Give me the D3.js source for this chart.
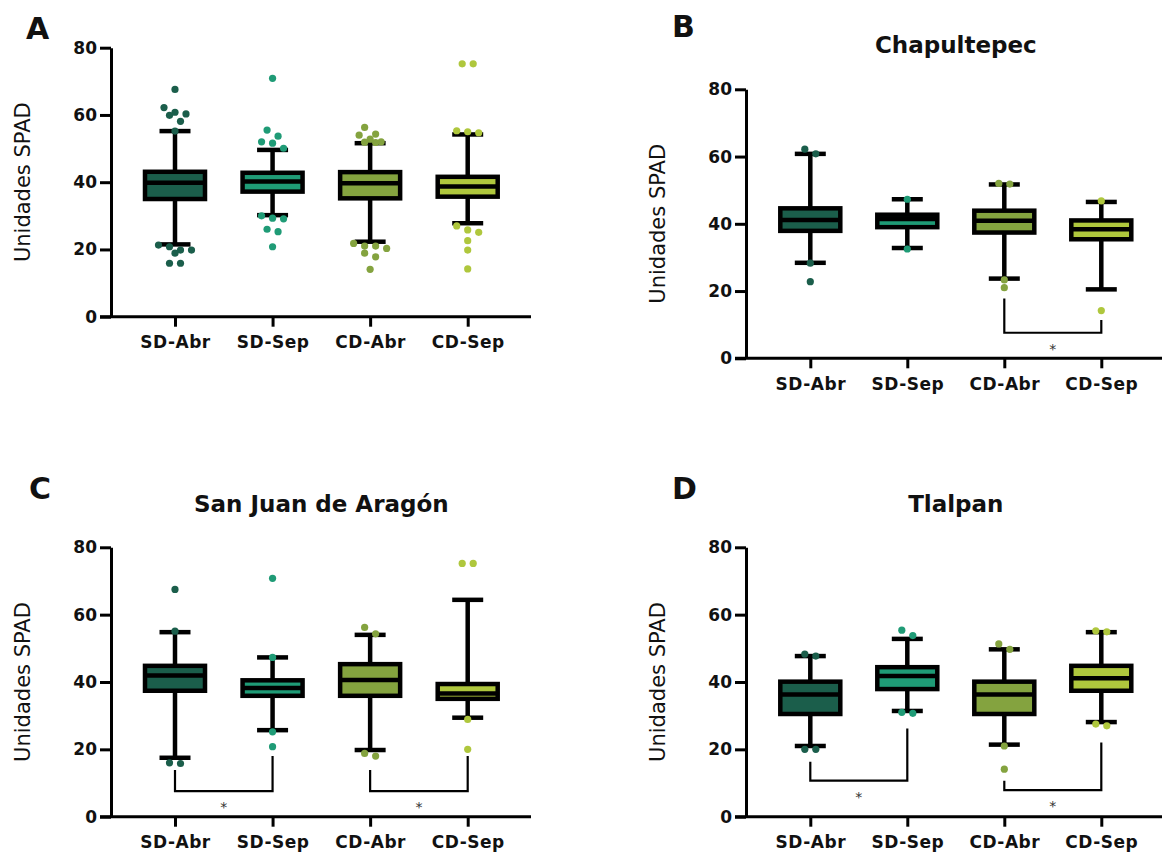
<!DOCTYPE html>
<html>
<head>
<meta charset="utf-8">
<script src="https://cdn.jsdelivr.net/npm/d3@7"></script>
<style>
  body { margin: 0; background: #fff; }
  text { font-family: "DejaVu Sans", sans-serif; }
</style>
</head>
<body>
<div id="plot"></div>
<script>
var categories = ["SD-Abr", "SD-Sep", "CD-Abr", "CD-Sep"];
var colors = ["#1b5e4b", "#1f9b76", "#84a33f", "#afc73d"];
var yTicks = [0, 20, 40, 60, 80];
var panelLetters = ["A", "B", "C", "D"];
var panelTitles = ["", "Chapultepec", "San Juan de Aragón", "Tlalpan"];
var yLabel = "Unidades SPAD";

// [whisker low, Q1, median, Q3, whisker high] per category
var boxesA = [[21.5, 35.0, 39.8, 43.1, 55.2], [30.2, 37.2, 40.2, 42.8, 49.6], [22.3, 35.2, 39.7, 43.0, 51.6], [27.8, 35.7, 38.7, 41.6, 54.2]];
var boxesB = [[28.4, 37.9, 41.1, 44.6, 60.8], [32.8, 39.0, 41.4, 42.7, 47.3], [23.7, 37.4, 40.9, 43.9, 51.7], [20.5, 35.4, 38.4, 41.0, 46.5]];
var boxesC = [[17.5, 37.4, 41.9, 44.8, 54.8], [25.7, 35.9, 38.2, 40.5, 47.3], [19.8, 35.9, 40.6, 45.3, 54.0], [29.4, 35.0, 36.6, 39.4, 64.4]];
var boxesD = [[21.0, 30.5, 36.3, 40.1, 47.7], [31.4, 37.9, 41.8, 44.4, 52.8], [21.4, 30.5, 36.3, 40.1, 49.7], [28.1, 37.4, 41.1, 44.8, 54.8]];

// points outside / at the whiskers
var outliersA = [
  [67.6, 62.2, 60.8, 60.3, 59.9, 58.1, 55.2, 21.3, 20.8, 19.8, 19.8, 18.9, 15.9, 15.9],
  [70.9, 55.5, 53.7, 52.0, 51.6, 50.1, 30.0, 29.3, 29.1, 26.0, 25.3, 20.8],
  [56.3, 54.3, 54.0, 52.8, 52.0, 51.9, 51.8, 21.8, 21.0, 21.0, 20.3, 18.9, 17.8, 14.1],
  [75.2, 75.2, 55.3, 55.0, 54.7, 27.0, 25.8, 25.1, 22.6, 19.8, 14.2]];
var outliersB = [[62.2, 60.8, 28.3, 22.8], [47.3, 32.5], [52.0, 51.8, 23.3, 21.0], [46.8, 14.2]];
var outliersC = [[67.5, 55.1, 16.0, 15.8], [70.8, 47.3, 25.2, 20.8], [56.2, 54.3, 18.8, 18.0], [75.2, 75.2, 28.9, 20.0]];
var outliersD = [[48.3, 47.7, 20.0, 20.0], [55.4, 53.8, 31.0, 30.7], [51.3, 49.7, 21.0, 14.1], [55.2, 54.9, 27.5, 27.0]];

// significance brackets: [group i, group j, top i, top j, bar level]
var compA = [];
var compB = [[2, 3, 17.8, 11.4, 7.6]];
var compC = [[0, 1, 13.9, 18.0, 7.6], [2, 3, 13.9, 18.0, 7.6]];
var compD = [[0, 1, 16.3, 26.2, 10.7], [2, 3, 10.7, 22.0, 7.9]];

var svg = d3.select("div#plot")
  .append("svg")
  .attr("width", 1162)
  .attr("height", 853);

var layouts = [
  {ox: 111, yTop: 47.7, yBot: 316.7, x1: 175, x2: 467.7, xEnd: 531, lx: 26, ly: 39, ty: 0},
  {ox: 746, yTop: 89.3, yBot: 358.3, x1: 810.3, x2: 1101.3, xEnd: 1162, lx: 672, ly: 37, ty: 52.7},
  {ox: 111, yTop: 547.3, yBot: 816.7, x1: 175, x2: 467.7, xEnd: 531, lx: 29, ly: 499, ty: 511.7},
  {ox: 746, yTop: 547.3, yBot: 816.7, x1: 810.3, x2: 1101.3, xEnd: 1162, lx: 672, ly: 499, ty: 511.7}
];
var allBoxes = [boxesA, boxesB, boxesC, boxesD];
var allOutliers = [outliersA, outliersB, outliersC, outliersD];
var allComps = [compA, compB, compC, compD];

// spread points that sit on the same row sideways
function dodge(vals, y) {
  var sorted = vals.slice().sort((a, b) => b - a);
  var rows = [], row = null;
  sorted.forEach(function(v) {
    if (row && y(v) - y(row[0]) < 7) row.push(v);
    else { row = [v]; rows.push(row); }
  });
  var out = [];
  rows.forEach(r => r.forEach((v, i) => out.push({v: v, dx: (i - (r.length - 1) / 2) * 11})));
  return out;
}

layouts.forEach(function(p, k) {
  var g = svg.append("g");
  var x = d3.scalePoint().domain(categories).range([p.x1, p.x2]);
  var y = d3.scaleLinear().domain([0, 80]).range([p.yBot, p.yTop]);

  // y axis
  var ya = g.append("g")
    .attr("transform", `translate(${p.ox}, 0)`)
    .call(d3.axisLeft(y).tickValues(yTicks).tickSize(11).tickSizeOuter(0).tickPadding(3));
  ya.select(".domain").attr("stroke-width", 3).attr("stroke", "#000");
  ya.selectAll(".tick line").attr("stroke-width", 3).attr("stroke", "#000");
  ya.selectAll(".tick text")
    .attr("fill", "#111")
    .style("font-size", "17px")
    .style("font-weight", "bold")
    .style("font-family", "DejaVu Sans");

  // x axis
  var xa = g.append("g")
    .attr("transform", `translate(0, ${p.yBot})`)
    .call(d3.axisBottom(x).tickSize(10).tickPadding(0));
  xa.select(".domain").remove();
  xa.selectAll(".tick line").attr("stroke-width", 3).attr("stroke", "#000");
  xa.selectAll(".tick text")
    .attr("fill", "#111")
    .attr("dy", null)
    .attr("y", 31.5)
    .style("font-size", "17px")
    .style("font-weight", "bold")
    .style("letter-spacing", "0.5px")
    .style("font-family", "DejaVu Sans");
  g.append("line")
    .attr("x1", p.ox - 11).attr("x2", p.xEnd)
    .attr("y1", p.yBot).attr("y2", p.yBot)
    .attr("stroke", "#000").attr("stroke-width", 3);

  // y label
  g.append("text")
    .attr("transform", `translate(${p.ox - 81}, ${(p.yTop + p.yBot) / 2}) rotate(-90)`)
    .attr("text-anchor", "middle")
    .style("font-size", "21px")
    .attr("fill", "#111")
    .text(yLabel);

  // panel letter and title
  g.append("text")
    .attr("x", p.lx).attr("y", p.ly)
    .style("font-size", "30px").style("font-weight", "bold")
    .attr("fill", "#111")
    .text(panelLetters[k]);
  if (panelTitles[k]) {
    g.append("text")
      .attr("x", (p.x1 + p.x2) / 2).attr("y", p.ty)
      .attr("text-anchor", "middle")
      .style("font-size", "23px").style("font-weight", "bold")
      .attr("fill", "#111")
      .text(panelTitles[k]);
  }

  // boxes
  allBoxes[k].forEach(function(b, i) {
    var cx = x(categories[i]);
    var bg = g.append("g");
    bg.append("line")
      .attr("x1", cx).attr("x2", cx).attr("y1", y(b[4])).attr("y2", y(b[0]))
      .attr("stroke", "#000").attr("stroke-width", 4.5);
    [b[0], b[4]].forEach(function(v) {
      bg.append("line")
        .attr("x1", cx - 15.5).attr("x2", cx + 15.5).attr("y1", y(v)).attr("y2", y(v))
        .attr("stroke", "#000").attr("stroke-width", 4.5);
    });
    bg.append("rect")
      .attr("x", cx - 30).attr("width", 60)
      .attr("y", y(b[3])).attr("height", y(b[1]) - y(b[3]))
      .attr("fill", colors[i])
      .attr("stroke", "#000").attr("stroke-width", 4.5);
    bg.append("line")
      .attr("x1", cx - 30).attr("x2", cx + 30).attr("y1", y(b[2])).attr("y2", y(b[2]))
      .attr("stroke", "#000").attr("stroke-width", 4.5);
  });

  // outlier points
  allOutliers[k].forEach(function(vals, i) {
    var cx = x(categories[i]);
    g.selectAll(null)
      .data(dodge(vals, y))
      .enter()
      .append("circle")
      .attr("cx", d => cx + d.dx)
      .attr("cy", d => y(d.v))
      .attr("r", 3.6)
      .attr("fill", colors[i]);
  });

  // significance brackets
  allComps[k].forEach(function(c) {
    var xa1 = x(categories[c[0]]), xa2 = x(categories[c[1]]);
    g.append("path")
      .attr("d", `M${xa1},${y(c[2])}V${y(c[4])}H${xa2}V${y(c[3])}`)
      .attr("fill", "none")
      .attr("stroke", "#000")
      .attr("stroke-width", 2.2);
    g.append("text")
      .attr("x", (xa1 + xa2) / 2)
      .attr("y", y(c[4]) + 13.5 + 7.5)
      .attr("text-anchor", "middle")
      .style("font-size", "14px")
      .attr("fill", "#333")
      .text("*");
  });
});
</script>
</body>
</html>
